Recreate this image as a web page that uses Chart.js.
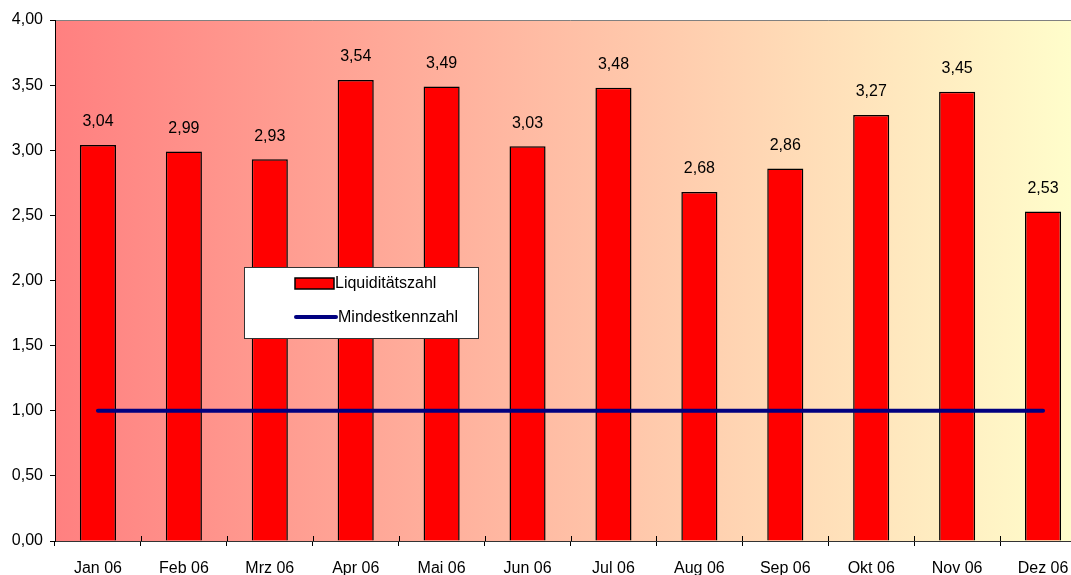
<!DOCTYPE html>
<html>
<head>
<meta charset="utf-8">
<script src="https://cdn.jsdelivr.net/npm/chart.js@4/dist/chart.umd.min.js"></script>
<style>
  html, body { margin: 0; padding: 0; background: #fff; overflow: hidden; }
  #wrap { width: 1096px; height: 575px; }
</style>
</head>
<body>
<div id="wrap"><canvas id="liquidityChart" width="1096" height="575"></canvas></div>
<script>
var months = ['Jan 06', 'Feb 06', 'Mrz 06', 'Apr 06', 'Mai 06', 'Jun 06', 'Jul 06', 'Aug 06', 'Sep 06', 'Okt 06', 'Nov 06', 'Dez 06'];
var liquiditaet = [3.04, 2.99, 2.93, 3.54, 3.49, 3.03, 3.48, 2.68, 2.86, 3.27, 3.45, 2.53];
var mindestkennzahl = [1, 1, 1, 1, 1, 1, 1, 1, 1, 1, 1, 1];

var FONT = '"Liberation Sans", Arial, sans-serif';
Chart.defaults.font.family = FONT;
Chart.defaults.font.size = 16;
Chart.defaults.color = '#000';

function fmt(v) {
    return Number(v).toFixed(2).replace('.', ',');
}

// gradient fill behind the plot area plus the grey top border
var plotBackground = {
    id: 'plotBackground',
    beforeDraw: function(chart) {
        var a = chart.chartArea, ctx = chart.ctx;
        var g = ctx.createLinearGradient(a.left, 0, a.right, 0);
        g.addColorStop(0, '#ff8080');
        g.addColorStop(1, '#ffffcc');
        ctx.save();
        ctx.fillStyle = g;
        ctx.fillRect(a.left, a.top, a.right - a.left, a.bottom - a.top);
        ctx.strokeStyle = '#808080';
        ctx.lineWidth = 1;
        ctx.beginPath();
        ctx.moveTo(a.left, a.top + 0.5);
        ctx.lineTo(a.right, a.top + 0.5);
        ctx.stroke();
        ctx.restore();
    },
    // small tick marks crossing the bottom axis between months
    afterDraw: function(chart) {
        var x = chart.scales.x, ctx = chart.ctx, b = chart.chartArea.bottom;
        ctx.save();
        ctx.strokeStyle = '#000';
        ctx.lineWidth = 1;
        ctx.beginPath();
        for (var i = 1; i < months.length; i++) {
            var px = Math.round((x.getPixelForValue(i - 1) + x.getPixelForValue(i)) / 2) + 0.5;
            ctx.moveTo(px, b - 5);
            ctx.lineTo(px, b);
        }
        ctx.stroke();
        ctx.restore();
    }
};

// value labels above the bars
var barLabels = {
    id: 'barLabels',
    afterDatasetsDraw: function(chart) {
        var ctx = chart.ctx;
        var idx = chart.data.datasets.findIndex(function(d) { return d.type === 'bar'; });
        var meta = chart.getDatasetMeta(idx);
        ctx.save();
        ctx.font = '16px ' + FONT;
        ctx.fillStyle = '#000';
        ctx.textAlign = 'center';
        ctx.textBaseline = 'middle';
        meta.data.forEach(function(bar, i) {
            ctx.fillText(fmt(chart.data.datasets[idx].data[i]), bar.x, bar.y - 23);
        });
        ctx.restore();
    }
};

// boxed legend inside the plot
var boxLegend = {
    id: 'boxLegend',
    afterDraw: function(chart) {
        var ctx = chart.ctx;
        var ds = chart.data.datasets;
        var bar = ds.find(function(d) { return d.type === 'bar'; });
        var line = ds.find(function(d) { return d.type === 'line'; });
        ctx.save();
        ctx.fillStyle = '#fff';
        ctx.fillRect(244, 267, 234, 71);
        ctx.strokeStyle = '#333';
        ctx.lineWidth = 1;
        ctx.strokeRect(244.5, 267.5, 234, 71);

        ctx.fillStyle = bar.backgroundColor;
        ctx.fillRect(295, 278, 39, 11);
        ctx.strokeStyle = '#000';
        ctx.lineWidth = 1.5;
        ctx.strokeRect(295, 278, 39, 11);

        ctx.strokeStyle = line.borderColor;
        ctx.lineWidth = 4;
        ctx.lineCap = 'round';
        ctx.beginPath();
        ctx.moveTo(296, 317);
        ctx.lineTo(336, 317);
        ctx.stroke();

        ctx.font = '16px ' + FONT;
        ctx.fillStyle = '#000';
        ctx.textAlign = 'left';
        ctx.textBaseline = 'middle';
        ctx.fillText(bar.label, 335, 284);
        ctx.fillText(line.label, 338, 318);
        ctx.restore();
    }
};

var ctx = document.getElementById('liquidityChart').getContext('2d');
var liquidityChart = new Chart(ctx, {
    data: {
        labels: months,
        datasets: [{
            type: 'bar',
            label: 'Liquiditätszahl',
            data: liquiditaet,
            backgroundColor: '#ff0000',
            borderColor: '#000',
            borderWidth: 1.5,
            categoryPercentage: 1,
            barPercentage: 0.42,
            order: 1
        }, {
            type: 'line',
            label: 'Mindestkennzahl',
            data: mindestkennzahl,
            borderColor: '#000080',
            borderWidth: 4,
            borderCapStyle: 'round',
            pointRadius: 0,
            fill: false,
            order: 0
        }]
    },
    options: {
        responsive: false,
        animation: false,
        layout: { padding: { top: 20, right: 10, left: 0, bottom: 0 } },
        plugins: {
            legend: { display: false },
            tooltip: { enabled: false }
        },
        scales: {
            x: {
                afterFit: function(scale) { scale.height = 34; },
                grid: {
                    offset: true,
                    drawOnChartArea: false,
                    color: '#000',
                    tickLength: 5
                },
                border: { color: '#333', width: 1 },
                ticks: { padding: 13, maxRotation: 0, autoSkip: false }
            },
            y: {
                min: 0,
                max: 4,
                afterFit: function(scale) { scale.width = 55; },
                grid: {
                    drawOnChartArea: false,
                    color: '#000',
                    tickLength: 5
                },
                border: { color: '#000', width: 1 },
                ticks: {
                    stepSize: 0.5,
                    padding: 7,
                    callback: function(v) { return fmt(v); }
                }
            }
        }
    },
    plugins: [plotBackground, barLabels, boxLegend]
});
</script>
</body>
</html>
